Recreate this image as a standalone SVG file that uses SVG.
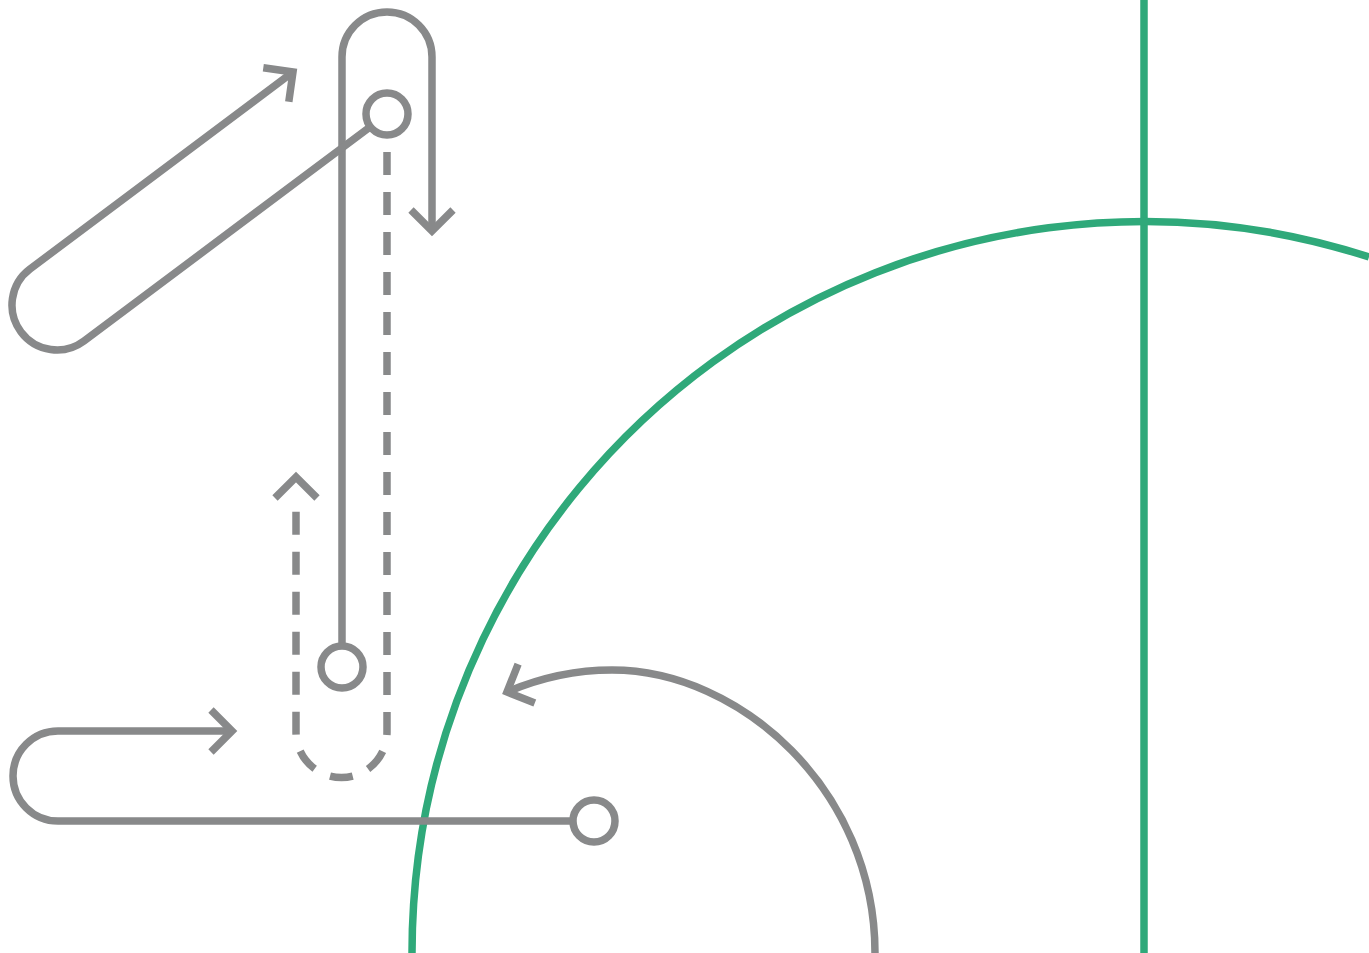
<svg xmlns="http://www.w3.org/2000/svg" width="1369" height="953" viewBox="0 0 1369 953">
<style>
.g{fill:none;stroke:#2fa97a;stroke-width:7.5}
.l{fill:none;stroke:#88898a;stroke-width:7.5;stroke-linejoin:miter;stroke-linecap:butt}
.d{stroke-dasharray:23 17}
.n{fill:#fff;stroke:#88898a;stroke-width:7.5}
</style>
<rect width="1369" height="953" fill="#fff"/>
<g id="axes">
<line class="g" x1="1144" y1="0" x2="1144" y2="953"/>
<path class="g" d="M412,953 A732,732 0 0 1 1369,257"/>
</g>
<g id="connectors">
<path class="l" d="M342,643 L342,57 A45,45 0 0 1 432,57 L432,231"/>
<polyline class="l" points="411,210 432,231 453,210"/>
<path class="l" d="M370,127 L84,341 A45,45 0 0 1 30,269 L293,72"/>
<polyline class="l" points="263.3,67.8 293,72 288.8,101.7"/>
<path class="l d" d="M387,152 L387,732 A45.5,45.5 0 0 1 296,732 L296,502"/>
<polyline class="l" points="275,498 296,477 317,498"/>
<path class="l" d="M573,821 L58,821 A45,45 0 0 1 58,731 L232,731"/>
<polyline class="l" points="211,710 232,731 211,752"/>
<path class="l" d="M875,953 C875,790 740,670 612,670 C570,670 535,680 507,692"/>
<polyline class="l" points="518.1,664.2 507,692 534.8,703.1"/>
</g>
<g id="node-a"><circle class="n" cx="387" cy="114" r="21"/></g>
<g id="node-b"><circle class="n" cx="342" cy="667" r="21"/></g>
<g id="node-c"><circle class="n" cx="594" cy="821" r="21"/></g>
</svg>
